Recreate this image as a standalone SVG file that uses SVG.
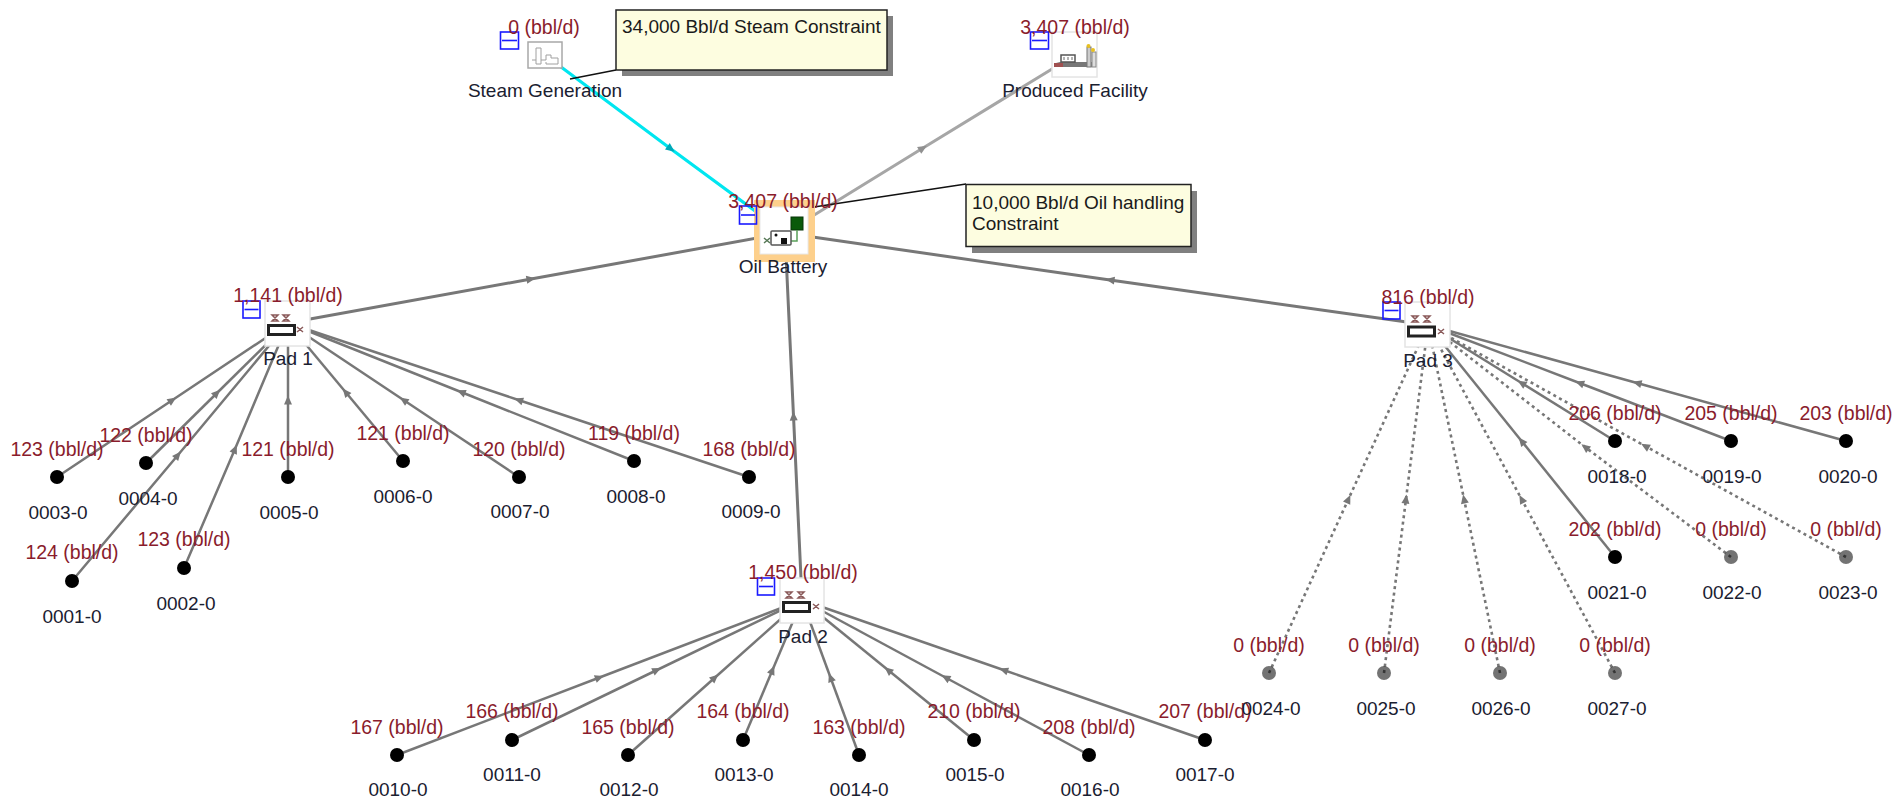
<svg xmlns="http://www.w3.org/2000/svg" width="1904" height="799" viewBox="0 0 1904 799">
<style>
text{font-family:"Liberation Sans",Arial,sans-serif}
.v{font-size:19.5px;fill:#8a1c2c;text-anchor:middle}
.n{font-size:19px;fill:#1a2030;text-anchor:middle}
.c{font-size:19px;fill:#1a1a1a}
.ln{fill:none;stroke:#777;stroke-width:2.5;marker-mid:url(#a)}
.dash{stroke-width:2.6;stroke-dasharray:3 3.5}
.w{fill:#000}
.d{fill:#000;fill-opacity:.55}
.box{fill:#fff;stroke:#e4e4e4;stroke-width:1.5}
.min{fill:none;stroke:#1a1aff;stroke-width:1.6}
.note{fill:#fdfde0;stroke:#222;stroke-width:1.5}
.sh{fill:#808080}
.lead{fill:none;stroke:#111;stroke-width:1.5}
.pr{fill:#fff;stroke:#222;stroke-width:3}
.vlv{fill:none;stroke:#8a5a5a;stroke-width:1.5}
</style>
<defs>
<marker id="a" markerUnits="userSpaceOnUse" markerWidth="12" markerHeight="12" refX="6" refY="6" orient="auto" viewBox="0 0 12 12"><path d="M10.5,6 L1.5,2 L1.5,10 Z" fill="#777"/></marker>
<marker id="ac" markerUnits="userSpaceOnUse" markerWidth="12" markerHeight="12" refX="6" refY="6" orient="auto" viewBox="0 0 12 12"><path d="M10.5,6 L1.5,2 L1.5,10 Z" fill="#00a8b8"/></marker>
<marker id="ag" markerUnits="userSpaceOnUse" markerWidth="12" markerHeight="12" refX="6" refY="6" orient="auto" viewBox="0 0 12 12"><path d="M10.5,6 L1.5,2 L1.5,10 Z" fill="#909090"/></marker>
</defs>
<g id="connectors">
<polyline points="545,55 671,149 785,233" style="fill:none;stroke:#00e6f0;stroke-width:3.2;marker-mid:url(#ac)"/>
<polyline points="785,233 923,148 1075,55" style="fill:none;stroke:#a6a6a6;stroke-width:3;marker-mid:url(#ag)"/>
<polyline class="ln" style="stroke-width:3" points="288,323 531,279 785,233"/>
<polyline class="ln" style="stroke-width:3" points="802,600 793.500,416 785,233"/>
<polyline class="ln" style="stroke-width:3" points="1428,325 1110,280 785,233"/>
<polyline class="ln" points="72,581 178,455 288,323"/>
<polyline class="ln" points="184,568 235,449 288,323"/>
<polyline class="ln" points="57,477 172.5,400 288,323"/>
<polyline class="ln" points="146,463 217,393 288,323"/>
<polyline class="ln" points="288,477 288,400 288,323"/>
<polyline class="ln" points="403,461 345.5,392 288,323"/>
<polyline class="ln" points="519,477 403.5,400 288,323"/>
<polyline class="ln" points="634,461 461,392 288,323"/>
<polyline class="ln" points="749,477 518.5,400 288,323"/>
<polyline class="ln" points="397,755 599.5,677.5 802,600"/>
<polyline class="ln" points="512,740 657,670 802,600"/>
<polyline class="ln" points="628,755 715,677.5 802,600"/>
<polyline class="ln" points="743,740 772.5,670 802,600"/>
<polyline class="ln" points="859,755 830.5,677.5 802,600"/>
<polyline class="ln" points="974,740 888,670 802,600"/>
<polyline class="ln" points="1089,755 945.5,677.5 802,600"/>
<polyline class="ln" points="1205,740 1003.5,670 802,600"/>
<polyline class="ln" points="1615,441 1521.5,383 1428,325"/>
<polyline class="ln" points="1731,441 1579.5,383 1428,325"/>
<polyline class="ln" points="1846,441 1637,383 1428,325"/>
<polyline class="ln" points="1615,557 1521.5,441 1428,325"/>
<polyline class="ln dash" points="1731,557 1585,447 1428,325"/>
<polyline class="ln dash" points="1846,557 1645,446 1428,325"/>
<polyline class="ln dash" points="1269,673 1348.5,499 1428,325"/>
<polyline class="ln dash" points="1384,673 1406,499 1428,325"/>
<polyline class="ln dash" points="1500,673 1464,499 1428,325"/>
<polyline class="ln dash" points="1615,673 1521.5,499 1428,325"/>
</g>
<g id="note-steam">
<path class="lead" d="M616,70 L570,79"/>
<rect class="sh" x="622" y="16" width="271" height="60"/>
<rect class="note" x="616" y="10" width="271" height="60"/>
<text class="c" x="622" y="33">34,000 Bbl/d Steam Constraint</text>
</g>
<g id="note-oil">
<path class="lead" d="M966,184 L814,207"/>
<rect class="sh" x="972" y="191" width="225" height="62"/>
<rect class="note" x="966" y="184.500" width="225" height="62"/>
<text class="c" x="972" y="209">10,000 Bbl/d Oil handling</text>
<text class="c" x="972" y="230">Constraint</text>
</g>
<g id="steam-generation">
<rect x="528" y="42" width="34" height="26" fill="#fff" stroke="#a8a8a8" stroke-width="1.5"/>
<path d="M532,60 H536 V48 H541 V60 H546 V55 H551 V58 H558 V64 H546 V62 M536,60 V64 H541 V60" fill="none" stroke="#a0a0a0" stroke-width="1"/>
<rect class="min" x="500.500" y="32" width="18" height="17"/><path d="M502,40.500 H517" stroke="#1a1aff" stroke-width="1.6"/>
<text class="v" x="544" y="34">0 (bbl/d)</text>
<text class="n" x="545" y="97">Steam Generation</text>
</g>
<g id="produced-facility">
<rect class="box" x="1052" y="32" width="45" height="45"/>
<path d="M1060,62 H1092 V67 H1056 V63 Z" fill="#777"/>
<path d="M1061,55 H1075 V62 H1061 Z" fill="#fff" stroke="#555" stroke-width="1.5"/>
<path d="M1064,57 V60 M1068,57 V60 M1072,57 V60" stroke="#666"/>
<rect x="1087" y="47" width="4" height="20" fill="#ccc" stroke="#777"/><rect x="1092" y="52" width="4" height="15" fill="#ddd" stroke="#888"/>
<circle cx="1088.500" cy="46" r="2" fill="#e8c020"/><circle cx="1093" cy="50" r="2" fill="#e8c020"/>
<rect x="1054" y="63" width="9" height="4" fill="#a05050"/>
<rect class="min" x="1030.500" y="32" width="18" height="17"/><path d="M1032,40.500 H1047" stroke="#1a1aff" stroke-width="1.6"/>
<text class="v" x="1075" y="34">3,407 (bbl/d)</text>
<text class="n" x="1075" y="97">Produced Facility</text>
</g>
<g id="oil-battery">
<rect x="754" y="200" width="61" height="62" fill="#fdd08c"/>
<rect x="760" y="207" width="48" height="47" fill="#fff" stroke="#e8e8e8"/>
<rect x="791" y="217" width="12" height="13" fill="#0a5a0a" stroke="#063506"/>
<path d="M797,230 V241 H791" fill="none" stroke="#5aa05a" stroke-width="1.5"/>
<rect x="771" y="231" width="20" height="14" rx="1" fill="#fff" stroke="#555" stroke-width="1.5"/>
<rect x="781" y="238" width="6" height="6" fill="#111"/><circle cx="776" cy="235" r="1.500" fill="#111"/>
<path d="M764,238 L770,243 M764,243 L770,238" stroke="#557755" stroke-width="1.5"/>
<rect class="min" x="739.500" y="206" width="17" height="18"/><path d="M741,215 H755" stroke="#1a1aff" stroke-width="1.6"/>
<text class="v" x="783" y="208">3,407 (bbl/d)</text>
<text class="n" x="783" y="273">Oil Battery</text>
</g>
<g id="pad-1">
<rect class="box" x="265" y="301" width="45" height="45"/>
<rect class="pr" x="268.500" y="325.500" width="26" height="9"/>
<path class="vlv" d="M272,315 H278 L272,321 H278 Z M283,315 H289 L283,321 H289 Z M297,327 L303,332 M297,332 L303,327"/>
<rect class="min" x="243" y="301" width="17" height="17"/><path d="M244.500,309.500 H258.500" stroke="#1a1aff" stroke-width="1.6"/>
<text class="v" x="288" y="302">1,141 (bbl/d)</text>
<text class="n" x="288" y="365">Pad 1</text>
</g>
<g id="pad-2">
<rect class="box" x="780" y="578" width="44" height="45"/>
<rect class="pr" x="783.500" y="602.500" width="26" height="9"/>
<path class="vlv" d="M786,592 H792 L786,598 H792 Z M798,592 H804 L798,598 H804 Z M813,604 L819,609 M813,609 L819,604"/>
<rect class="min" x="757.500" y="578" width="17" height="17"/><path d="M759,586.500 H773" stroke="#1a1aff" stroke-width="1.6"/>
<text class="v" x="803" y="579">1,450 (bbl/d)</text>
<text class="n" x="803" y="643">Pad 2</text>
</g>
<g id="pad-3">
<rect class="box" x="1405" y="302" width="45" height="45"/>
<rect class="pr" x="1408.500" y="327" width="26" height="9"/>
<path class="vlv" d="M1412,316 H1418 L1412,322 H1418 Z M1424,316 H1430 L1424,322 H1430 Z M1438,329 L1444,334 M1438,334 L1444,329"/>
<rect class="min" x="1383" y="302" width="17" height="17"/><path d="M1384.500,310.500 H1398.500" stroke="#1a1aff" stroke-width="1.6"/>
<text class="v" x="1428" y="304">816 (bbl/d)</text>
<text class="n" x="1428" y="367">Pad 3</text>
</g>
<g id="w0001"><circle class="w" cx="72" cy="581" r="7"/><text class="v" x="72" y="559">124 (bbl/d)</text><text class="n" x="72" y="623">0001-0</text></g>
<g id="w0002"><circle class="w" cx="184" cy="568" r="7"/><text class="v" x="184" y="546">123 (bbl/d)</text><text class="n" x="186" y="610">0002-0</text></g>
<g id="w0003"><circle class="w" cx="57" cy="477" r="7"/><text class="v" x="57" y="456">123 (bbl/d)</text><text class="n" x="58" y="519">0003-0</text></g>
<g id="w0004"><circle class="w" cx="146" cy="463" r="7"/><text class="v" x="146" y="442">122 (bbl/d)</text><text class="n" x="148" y="505">0004-0</text></g>
<g id="w0005"><circle class="w" cx="288" cy="477" r="7"/><text class="v" x="288" y="456">121 (bbl/d)</text><text class="n" x="289" y="519">0005-0</text></g>
<g id="w0006"><circle class="w" cx="403" cy="461" r="7"/><text class="v" x="403" y="440">121 (bbl/d)</text><text class="n" x="403" y="503">0006-0</text></g>
<g id="w0007"><circle class="w" cx="519" cy="477" r="7"/><text class="v" x="519" y="456">120 (bbl/d)</text><text class="n" x="520" y="518">0007-0</text></g>
<g id="w0008"><circle class="w" cx="634" cy="461" r="7"/><text class="v" x="634" y="440">119 (bbl/d)</text><text class="n" x="636" y="503">0008-0</text></g>
<g id="w0009"><circle class="w" cx="749" cy="477" r="7"/><text class="v" x="749" y="456">168 (bbl/d)</text><text class="n" x="751" y="518">0009-0</text></g>
<g id="w0010"><circle class="w" cx="397" cy="755" r="7"/><text class="v" x="397" y="734">167 (bbl/d)</text><text class="n" x="398" y="796">0010-0</text></g>
<g id="w0011"><circle class="w" cx="512" cy="740" r="7"/><text class="v" x="512" y="718">166 (bbl/d)</text><text class="n" x="512" y="781">0011-0</text></g>
<g id="w0012"><circle class="w" cx="628" cy="755" r="7"/><text class="v" x="628" y="734">165 (bbl/d)</text><text class="n" x="629" y="796">0012-0</text></g>
<g id="w0013"><circle class="w" cx="743" cy="740" r="7"/><text class="v" x="743" y="718">164 (bbl/d)</text><text class="n" x="744" y="781">0013-0</text></g>
<g id="w0014"><circle class="w" cx="859" cy="755" r="7"/><text class="v" x="859" y="734">163 (bbl/d)</text><text class="n" x="859" y="796">0014-0</text></g>
<g id="w0015"><circle class="w" cx="974" cy="740" r="7"/><text class="v" x="974" y="718">210 (bbl/d)</text><text class="n" x="975" y="781">0015-0</text></g>
<g id="w0016"><circle class="w" cx="1089" cy="755" r="7"/><text class="v" x="1089" y="734">208 (bbl/d)</text><text class="n" x="1090" y="796">0016-0</text></g>
<g id="w0017"><circle class="w" cx="1205" cy="740" r="7"/><text class="v" x="1205" y="718">207 (bbl/d)</text><text class="n" x="1205" y="781">0017-0</text></g>
<g id="w0018"><circle class="w" cx="1615" cy="441" r="7"/><text class="v" x="1615" y="420">206 (bbl/d)</text><text class="n" x="1617" y="483">0018-0</text></g>
<g id="w0019"><circle class="w" cx="1731" cy="441" r="7"/><text class="v" x="1731" y="420">205 (bbl/d)</text><text class="n" x="1732" y="483">0019-0</text></g>
<g id="w0020"><circle class="w" cx="1846" cy="441" r="7"/><text class="v" x="1846" y="420">203 (bbl/d)</text><text class="n" x="1848" y="483">0020-0</text></g>
<g id="w0021"><circle class="w" cx="1615" cy="557" r="7"/><text class="v" x="1615" y="536">202 (bbl/d)</text><text class="n" x="1617" y="599">0021-0</text></g>
<g id="w0022"><circle class="d" cx="1731" cy="557" r="7"/><text class="v" x="1731" y="536">0 (bbl/d)</text><text class="n" x="1732" y="599">0022-0</text></g>
<g id="w0023"><circle class="d" cx="1846" cy="557" r="7"/><text class="v" x="1846" y="536">0 (bbl/d)</text><text class="n" x="1848" y="599">0023-0</text></g>
<g id="w0024"><circle class="d" cx="1269" cy="673" r="7"/><text class="v" x="1269" y="652">0 (bbl/d)</text><text class="n" x="1271" y="715">0024-0</text></g>
<g id="w0025"><circle class="d" cx="1384" cy="673" r="7"/><text class="v" x="1384" y="652">0 (bbl/d)</text><text class="n" x="1386" y="715">0025-0</text></g>
<g id="w0026"><circle class="d" cx="1500" cy="673" r="7"/><text class="v" x="1500" y="652">0 (bbl/d)</text><text class="n" x="1501" y="715">0026-0</text></g>
<g id="w0027"><circle class="d" cx="1615" cy="673" r="7"/><text class="v" x="1615" y="652">0 (bbl/d)</text><text class="n" x="1617" y="715">0027-0</text></g>
</svg>
